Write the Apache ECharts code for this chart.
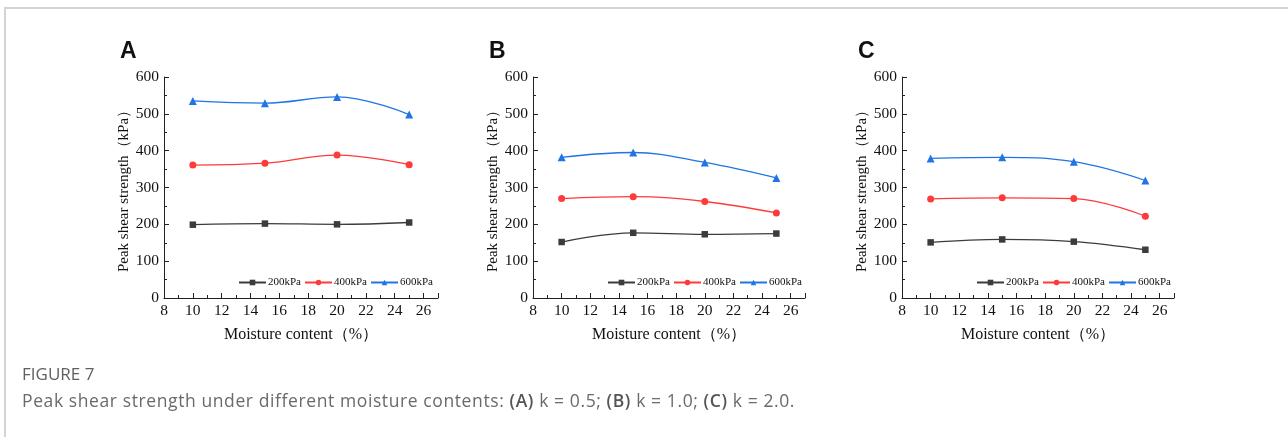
<!DOCTYPE html>
<html>
<head>
<meta charset="utf-8">
<script src="https://cdn.jsdelivr.net/npm/echarts@6/dist/echarts.min.js"></script>
<style>
  html, body { margin: 0; padding: 0; background: #fff; }
  #frame {
    position: absolute; left: 4px; top: 7px; width: 1284px; height: 430px;
    border-top: 2px solid #d4d4d4; border-left: 2px solid #d4d4d4;
  }
  #chart { position: absolute; left: 0; top: 0; width: 1288px; height: 437px; }
  .cap { position: absolute; left: 22px; font-family: "Open Sans", "Noto Sans", sans-serif; color: #6a6a6a; }
  #fig { top: 362px; font-size: 17px; font-weight: 500; color: #606060; }
  #desc { top: 388px; font-size: 17.5px; letter-spacing: 0.6px; }
  #desc b { font-weight: 600; color: #555; }
</style>
</head>
<body>
<div id="frame"></div>
<div id="chart"></div>
<div class="cap" id="fig">FIGURE 7</div>
<div class="cap" id="desc">Peak shear strength under different moisture contents: <b>(A)</b> k = 0.5; <b>(B)</b> k = 1.0; <b>(C)</b> k = 2.0.</div>
<script>
// moisture content (%)
var moisture = [10, 15, 20, 25];
var seriesNames = ["200kPa", "400kPa", "600kPa"];
var panelLabels = ["A", "B", "C"];

// peak shear strength (kPa), panel A: k = 0.5
var a200 = [199, 202, 200, 205];
var a400 = [361, 366, 388, 362];
var a600 = [535, 529, 546, 498];
// panel B: k = 1.0
var b200 = [152, 177, 173, 175];
var b400 = [270, 275, 262, 231];
var b600 = [382, 395, 368, 326];
// panel C: k = 2.0
var c200 = [151, 159, 153, 131];
var c400 = [269, 272, 270, 222];
var c600 = [379, 382, 370, 319];

var panels = [[a200, a400, a600], [b200, b400, b600], [c200, c400, c600]];

var colors = ["#3c3c3c", "#ff3a3a", "#1f74e6"];
var symbols = ["rect", "circle", "triangle"];
var symbolSizes = [6.5, 7, 8];
var serif = '"Liberation Serif", "Times New Roman", serif';

var gridLefts = [164, 533, 902];
var gridWidths = [274, 272, 272];

var grids = [], xAxes = [], yAxes = [], series = [], legends = [], graphics = [];

for (var p = 0; p < 3; p++) {
  grids.push({ left: gridLefts[p], top: 77, width: gridWidths[p], height: 221 });

  xAxes.push({
    gridIndex: p,
    type: "value",
    min: 8, max: 27, interval: 2,
    name: "Moisture content（%）",
    nameLocation: "middle",
    nameGap: 29,
    nameTextStyle: { fontFamily: serif, fontSize: 16, color: "#111" },
    axisLine: { lineStyle: { color: "#222", width: 1 } },
    axisTick: { inside: true, length: 5, lineStyle: { color: "#222" } },
    minorTick: { show: true, splitNumber: 2, length: 3, lineStyle: { color: "#222" } },
    splitLine: { show: false },
    axisLabel: {
      fontFamily: serif, fontSize: 15.5, color: "#111", margin: 5,
      formatter: function (v) { return v === 27 ? "" : v; }
    }
  });

  yAxes.push({
    gridIndex: p,
    type: "value",
    min: 0, max: 600, interval: 100,
    name: "Peak shear strength（kPa）",
    nameLocation: "middle",
    nameRotate: 90,
    nameGap: 31,
    nameTextStyle: { fontFamily: serif, fontSize: 15, color: "#111" },
    axisLine: { show: true, lineStyle: { color: "#222", width: 1 } },
    axisTick: { show: true, inside: true, length: 5, lineStyle: { color: "#222" } },
    minorTick: { show: true, splitNumber: 2, length: 3, lineStyle: { color: "#222" } },
    splitLine: { show: false },
    axisLabel: { fontFamily: serif, fontSize: 15.5, color: "#111", margin: 5 }
  });

  for (var s = 0; s < 3; s++) {
    var vals = panels[p][s];
    series.push({
      name: seriesNames[s],
      type: "line",
      xAxisIndex: p,
      yAxisIndex: p,
      smooth: 0.4,
      symbol: symbols[s],
      symbolSize: symbolSizes[s],
      lineStyle: { color: colors[s], width: 1.3 },
      itemStyle: { color: colors[s] },
      data: moisture.map(function (m, i) { return [m, vals[i]]; })
    });
  }

  legends.push({
    data: seriesNames,
    left: gridLefts[p] + 69,
    top: 272,
    itemWidth: 27,
    itemHeight: 7,
    itemGap: 3,
    textStyle: { fontFamily: serif, fontSize: 11, color: "#111", padding: [0, 0, 0, -3] },
    selectedMode: false
  });

  graphics.push({
    type: "text",
    left: gridLefts[p] - 44,
    top: 40,
    style: { text: panelLabels[p], font: 'bold 23px "Liberation Sans", Arial, sans-serif', fill: "#111" }
  });
}

var chart = echarts.init(document.getElementById("chart"), null, { renderer: "canvas" });
chart.setOption({
  animation: false,
  grid: grids,
  xAxis: xAxes,
  yAxis: yAxes,
  legend: legends,
  graphic: graphics,
  series: series
});
</script>
</body>
</html>
